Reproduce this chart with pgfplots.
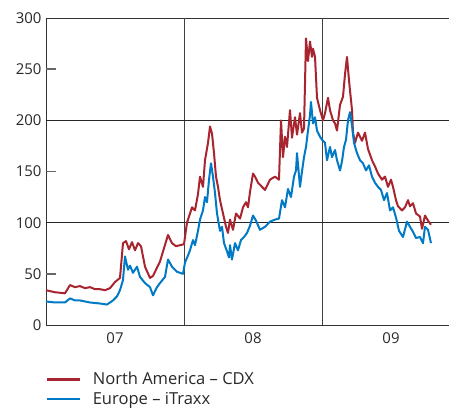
\documentclass[border=0pt]{standalone}
\usepackage{pgfplots}
\pgfplotsset{compat=1.18}
\usepackage{fontspec}
\setmainfont{Open Sans}
\definecolor{cdxred}{RGB}{168,36,46}
\definecolor{itxblue}{RGB}{0,122,197}
\definecolor{txt}{RGB}{40,40,40}
\begin{document}
\begin{tikzpicture}
\useasboundingbox (-46bp,-85bp) rectangle (403bp,325bp);
\begin{axis}[
  at={(0,0)}, anchor=south west,
  scale only axis, width=403bp, height=307bp,
  xmin=0, xmax=403, ymin=0, ymax=300,
  axis x line*=box, axis y line*=left,
  axis line style={black!80, line width=0.9bp},
  xtick={69,207,345}, xticklabels={07,08,09},
  xtick style={draw opacity=0},
  extra x ticks={138,276}, extra x tick labels={},
  extra x tick style={grid=major, major grid style={black!75, line width=0.8bp}},
  ytick={0,50,...,300}, ytick pos=left,
  ytick style={draw=none},
  extra y ticks={100,200}, extra y tick labels={},
  extra y tick style={grid=major, major grid style={black!85, line width=0.8bp}},
  /pgf/number format/assume math mode=true,
  tick label style={font=\fontsize{15}{18}\selectfont, text=txt},
  xticklabel style={yshift=-4bp},
  yticklabel style={xshift=-1bp},
  legend cell align=left,
  legend style={draw=none, fill=none, at={(0,0)}, anchor=north west, xshift=0bp, yshift=-47bp,
    font=\fontsize{16.6}{19}\selectfont, text=txt, row sep=6bp, inner sep=0pt,
    nodes={inner sep=0pt},
    /tikz/every odd column/.append style={column sep=11bp}},
  legend image code/.code={\draw[#1, line width=2.6bp] (0bp,0bp) -- (33bp,0bp);},
]
\addplot[cdxred, line width=2bp, line join=round] coordinates {
(0,34) (9,32) (19,31) (24,39) (29,37) (34,38) (39,36) (44,37) (49,35) (54,35) (59,34) (64,36) (69,42) (74,46)
(77,80) (80,82) (83,74) (86,81) (89,73) (92,80) (95,77) (99,57) (104,46) (107,48) (110,54) (114,62) (118,75)
(122,88) (126,80) (130,77) (134,78) (138,79) (141,100) (144,109) (146,115) (149,112) (152,128) (154,145)
(157,135) (159,161) (162,178) (164,194) (166,187) (168,168) (170,145) (172,135) (174,122) (177,109) (180,96)
(182,90) (184,103) (187,93) (190,109) (194,104) (197,115) (200,120) (202,115) (204,130) (207,148) (209,145)
(212,139) (216,135) (219,132) (224,142) (229,145) (233,142) (235,200) (237,164) (239,184) (241,174) (244,210)
(246,183) (249,203) (251,186) (254,207) (256,188) (258,192) (260,280) (262,258) (264,277) (266,262) (267,270)
(269,262) (271,222) (274,210) (277,200) (279,207) (282,222) (284,210) (287,200) (289,197) (291,190) (294,215)
(297,223) (299,245) (301,262) (303,239) (306,210) (307,188) (309,178) (312,188) (316,180) (319,188) (322,172)
(326,161) (329,155) (332,148) (336,142) (339,145) (342,135) (345,142) (347,135) (350,122) (352,116) (356,112)
(359,115) (362,122) (364,116) (367,119) (370,109) (374,106) (376,94) (379,107) (382,102) (385,98)
};
\addlegendentry{North America – CDX}
\addplot[itxblue, line width=2bp, line join=round] coordinates {
(0,23) (9,22) (19,22) (24,26) (29,24) (34,24) (44,22) (54,21) (61,20) (67,24) (71,28) (74,34) (77,44) (79,67)
(82,54) (84,58) (87,51) (91,57) (94,47) (99,41) (104,37) (107,29) (111,37) (114,41) (119,47) (122,64) (126,57)
(131,52) (137,50) (139,61) (142,68) (144,73) (147,83) (149,78) (152,92) (154,103) (157,112) (159,125) (161,120)
(163,142) (165,158) (167,145) (169,129) (171,109) (174,92) (176,96) (178,80) (181,72) (183,66) (184,78) (186,64)
(189,80) (192,73) (195,83) (198,86) (201,90) (204,97) (207,107) (210,102) (214,93) (219,96) (224,101) (229,103)
(233,104) (236,122) (239,115) (242,133) (245,125) (248,145) (250,151) (251,168) (254,135) (256,150) (258,164)
(260,174) (262,190) (264,205) (265,218) (267,197) (269,203) (271,190) (274,184) (276,181) (279,178) (281,161)
(284,174) (286,164) (289,171) (291,161) (294,151) (296,160) (298,174) (300,181) (302,200) (304,208) (306,195)
(308,178) (311,168) (314,161) (317,158) (320,151) (323,156) (326,145) (329,139) (332,135) (335,132) (338,122)
(341,129) (344,112) (347,115) (350,105) (353,92) (357,86) (361,101) (364,96) (367,91) (370,85) (374,86) (377,80)
(379,96) (382,93) (385,80)
};
\addlegendentry{Europe – iTraxx}
\draw[black!60, line width=1.4bp] (axis cs:0,50) -- (axis cs:10,50);
\draw[black!60, line width=1.4bp] (axis cs:0,150) -- (axis cs:10,150);
\draw[black!60, line width=1.4bp] (axis cs:0,250) -- (axis cs:10,250);
\end{axis}
\end{tikzpicture}
\end{document}
